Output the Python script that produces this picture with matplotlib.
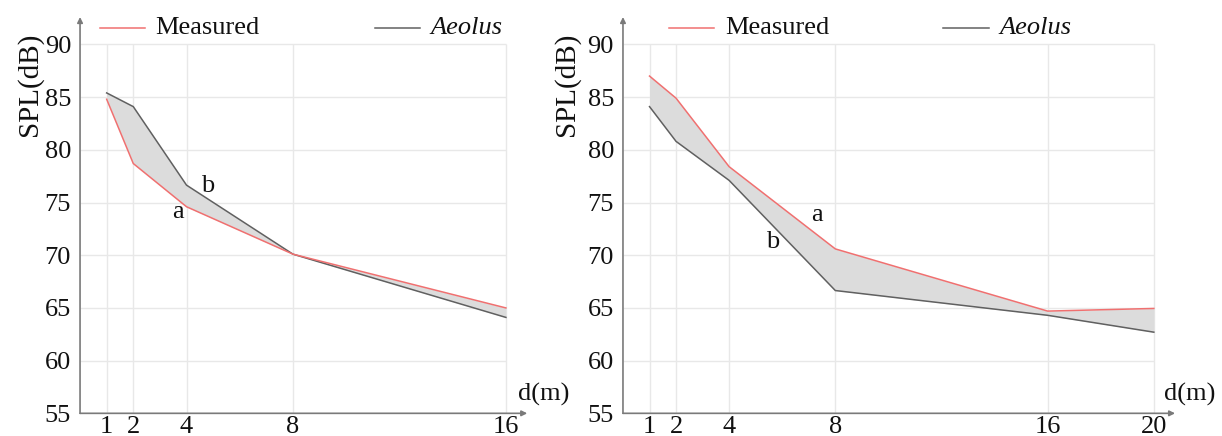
import matplotlib
matplotlib.use("Agg")
import matplotlib.pyplot as plt

plt.rcParams['font.family'] = ['Liberation Serif', 'DejaVu Serif']

# left panel
dist_a = [1, 2, 4, 8, 16]
measured_a = [84.8, 78.7, 74.6, 70.1, 65.0]
aeolus_a = [85.4, 84.1, 76.65, 70.1, 64.1]

# right panel
dist_b = [1, 2, 4, 8, 16, 20]
measured_b = [87.0, 84.9, 78.4, 70.6, 64.7, 64.95]
aeolus_b = [84.1, 80.8, 77.1, 66.65, 64.3, 62.7]

y_ticks = [55, 60, 65, 70, 75, 80, 85, 90]

red = '#f07070'
dark = '#606060'
fill_c = '#dcdcdc'
grid_c = '#e8e8e8'
axis_c = '#7a7a7a'
txt_c = '#111111'


def draw_panel(ax, x, meas, aeol, xmax, arrow_x, ylab_x, dm_x, leg):
    ax.set_xlim(0, xmax)
    ax.set_ylim(55, 93.5)
    for s in ax.spines.values():
        s.set_visible(False)
    # grid box
    ax.hlines(y_ticks, 0, x[-1], color=grid_c, lw=1, zorder=0)
    ax.vlines(x, 55, 90, color=grid_c, lw=1, zorder=0)
    # axes with arrows
    ax.annotate('', xy=(arrow_x, 55), xytext=(0, 55),
                arrowprops=dict(arrowstyle='-|>', color=axis_c, lw=1.2,
                                mutation_scale=8, shrinkA=0, shrinkB=0),
                annotation_clip=False)
    ax.annotate('', xy=(0, 92.6), xytext=(0, 55),
                arrowprops=dict(arrowstyle='-|>', color=axis_c, lw=1.2,
                                mutation_scale=8, shrinkA=0, shrinkB=0),
                annotation_clip=False)

    ax.fill_between(x, meas, aeol, color=fill_c, lw=0, zorder=1)
    ax.plot(x, aeol, color=dark, lw=1.1, zorder=2)
    ax.plot(x, meas, color=red, lw=1.1, zorder=3)

    ax.set_xticks(x)
    ax.set_xticklabels([str(v) for v in x])
    ax.set_yticks(y_ticks)
    ax.tick_params(axis='both', length=0, labelsize=19, colors=txt_c)
    ax.tick_params(axis='x', pad=2)
    ax.tick_params(axis='y', pad=6.5)

    ax.set_ylabel('SPL(dB)', fontsize=21, color=txt_c)
    ax.yaxis.set_label_coords(ylab_x, 0.81)
    ax.text(dm_x, 56.8, 'd(m)', fontsize=19, ha='left', va='center',
            color=txt_c)

    # legend
    (l1a, l1b, t1, l2a, l2b, t2) = leg
    ax.plot([l1a, l1b], [91.6, 91.6], color=red, lw=1.1, clip_on=False)
    ax.text(t1, 91.6, 'Measured', fontsize=19, va='center', ha='left',
            color=txt_c)
    ax.plot([l2a, l2b], [91.6, 91.6], color=dark, lw=1.1, clip_on=False)
    ax.text(t2, 91.6, 'Aeolus', fontsize=19, va='center', ha='left',
            style='italic', color=txt_c)


fig = plt.figure(figsize=(12.22, 4.36), dpi=100)
ax1 = fig.add_axes([0.0655, 0.052, 0.379, 0.9307])
ax2 = fig.add_axes([0.5098, 0.052, 0.467, 0.9307])

draw_panel(ax1, dist_a, measured_a, aeolus_a, 17.4, 16.8, -0.08, 16.45,
           (0.75, 2.44, 2.82, 11.1, 12.78, 13.16))
draw_panel(ax2, dist_b, measured_b, aeolus_b, 21.5, 20.8, -0.075, 20.4,
           (1.73, 3.43, 3.84, 12.05, 13.79, 14.2))

ax1.text(3.68, 74.1, 'a', fontsize=19, ha='center', va='center', color=txt_c)
ax1.text(4.8, 76.6, 'b', fontsize=19, ha='center', va='center', color=txt_c)
ax2.text(7.3, 73.8, 'a', fontsize=19, ha='center', va='center', color=txt_c)
ax2.text(5.62, 71.3, 'b', fontsize=19, ha='center', va='center', color=txt_c)

fig.savefig('out.png', dpi=100)
